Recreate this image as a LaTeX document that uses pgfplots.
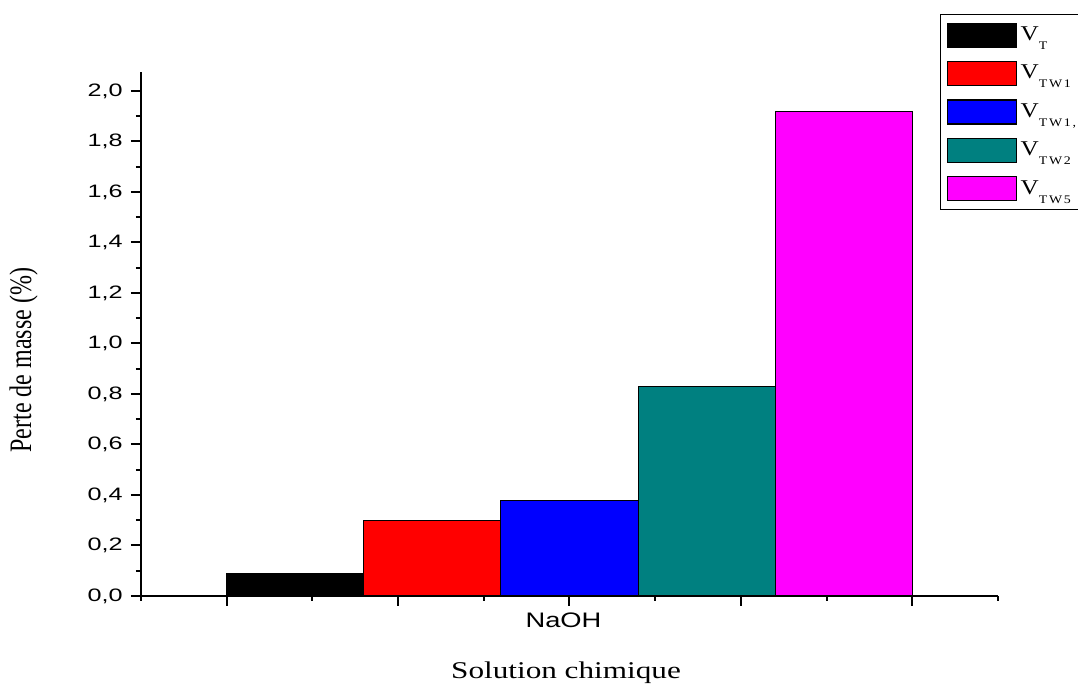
\documentclass[border=0pt]{standalone}
\usepackage{pgfplots}
\pgfplotsset{compat=1.18}
\usepackage{fontspec}
\usepackage{graphicx}
\setmainfont{Liberation Serif}
\setsansfont{Liberation Sans}

\definecolor{vteal}{RGB}{0,128,128}
\definecolor{vmag}{RGB}{255,0,255}

% text in this figure is set slightly wide
\newcommand{\wide}[1]{\scalebox{1.3}[1]{#1}}
\newcommand{\Vsub}[1]{\scalebox{1.2}[1]{\fontsize{10.5}{12}\selectfont V\raisebox{-4.5pt}{\fontsize{5.8}{6}\selectfont\addfontfeature{LetterSpace=12}#1}}}

\pgfplotsset{
  vbar/.style={ybar, bar width=1.6, bar shift=0pt, draw=black, line width=0.5pt,
    legend image code/.code={\draw[##1, draw=black, line width=0.6pt] (0pt,-6pt) rectangle (34.5pt,6pt);}},
}

\begin{document}
\begin{tikzpicture}
\begin{axis}[
  scale only axis, width=428.5pt, height=262pt,
  xmin=0, xmax=10, ymin=0, ymax=2.075,
  axis x line*=bottom, axis y line*=left,
  axis line style={line width=1pt, -},
  tick align=outside,
  major tick length=5pt, minor tick length=2.5pt,
  every tick/.style={black, line width=1pt},
  xtick={1,3,5,7,9}, xticklabels={,,\wide{NaOH},,},
  minor xtick={0,2,4,6,8,10},
  ytick={0,0.2,0.4,0.6,0.8,1.0,1.2,1.4,1.6,1.8,2.0},
  minor ytick={0.1,0.3,0.5,0.7,0.9,1.1,1.3,1.5,1.7,1.9},
  yticklabel={\scalebox{1.4}[1]{\pgfmathprintnumber[use comma,fixed,fixed zerofill,precision=1,assume math mode=true]{\tick}}},
  yticklabel style={font=\sffamily\fontsize{9}{10}\selectfont, inner sep=4pt},
  xticklabel style={font=\sffamily\fontsize{10.5}{12}\selectfont, xshift=-3pt},
  xlabel={\wide{Solution chimique}},
  ylabel={\scalebox{1}[1.3]{Perte de masse (\%)}},
  label style={font=\fontsize{12}{14}\selectfont},
  xlabel style={at={(rel axis cs:0.496,-0.146)}, anchor=center},
  ylabel style={at={(rel axis cs:-0.137,0.45)}, anchor=center},
  legend cell align=left,
  legend style={at={(rel axis cs:0.9323,1.1107)}, anchor=north west,
    draw=black, line width=0.6pt, fill=white,
    inner xsep=3pt, inner ysep=4pt, row sep=6.6pt,
    /tikz/every even column/.style={column sep=3pt}},
]
\addplot[vbar, fill=black] coordinates {(1.8,0.09)};
\addlegendentry{\Vsub{T}}
\addplot[vbar, fill=red] coordinates {(3.4,0.30)};
\addlegendentry{\Vsub{TW1}}
\addplot[vbar, fill=blue] coordinates {(5.0,0.38)};
\addlegendentry{\Vsub{TW1,5}}
\addplot[vbar, fill=vteal] coordinates {(6.6,0.83)};
\addlegendentry{\Vsub{TW2}}
\addplot[vbar, fill=vmag] coordinates {(8.2,1.92)};
\addlegendentry{\Vsub{TW5}\rule[-7.5pt]{0pt}{1pt}}
\coordinate (bbBL) at (rel axis cs:-0.1645,-0.168);
\coordinate (bbTR) at (rel axis cs:1.0934,1.1374);
\end{axis}
\pgfresetboundingbox
\useasboundingbox (bbBL) rectangle (bbTR);
\end{tikzpicture}
\end{document}
